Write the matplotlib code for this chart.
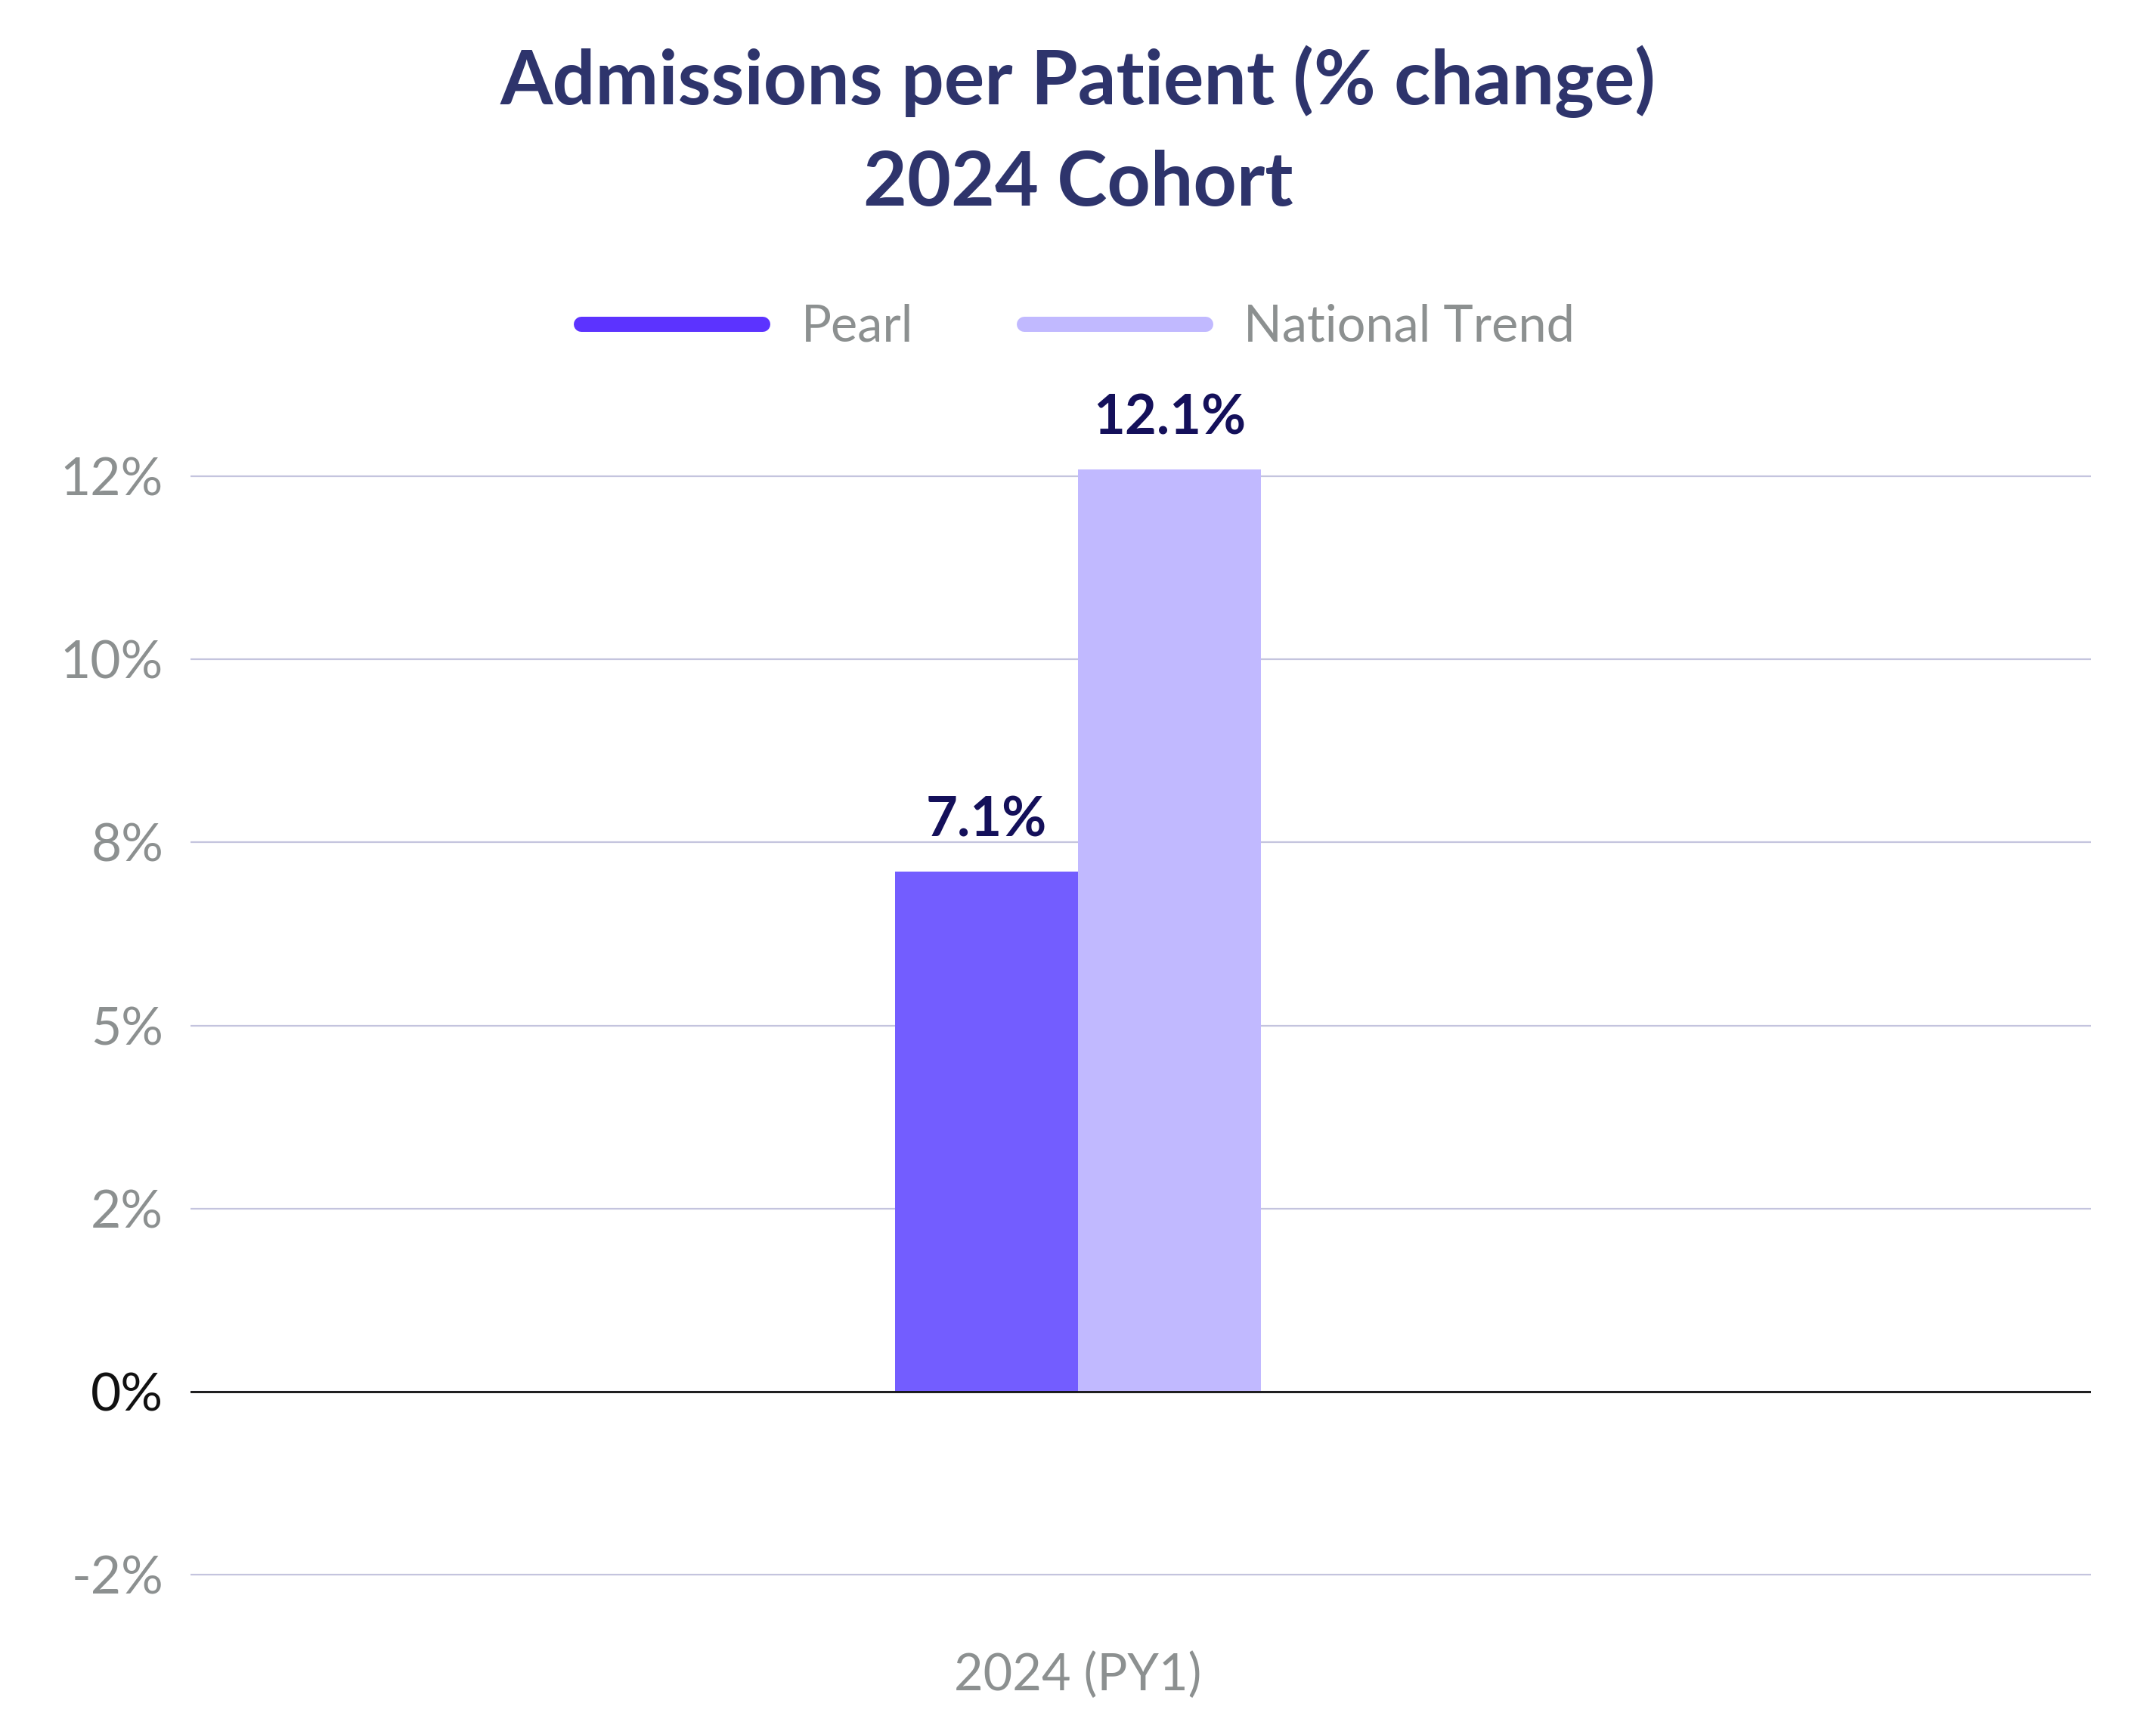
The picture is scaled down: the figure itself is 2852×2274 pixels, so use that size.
import matplotlib
matplotlib.use("Agg")
import matplotlib.pyplot as plt
import matplotlib.ticker as tick
from matplotlib.lines import Line2D
import numpy as np

plt.rcParams['font.family'] = ['Lato', 'DejaVu Sans']

categories = ["2024 (PY1)"]
series_names = ["Pearl", "National Trend"]
pearl_values = [7.1]
national_values = [12.6]
bar_labels = [["7.1%"], ["12.1%"]]
y_ticks = [-2.5, 0, 2.5, 5, 7.5, 10, 12.5]

title_color = "#2E346C"
label_color = "#14105A"
grey = "#8C9090"
bar_colors = ["#735DFF", "#C1B9FF"]
legend_colors = ["#5C33FF", "#C1B9FF"]

fig = plt.figure(figsize=(14.26, 11.37), dpi=200)
ax = fig.add_axes([0.0884, 0.0501, 0.9698 - 0.0884, 0.7696 - 0.0501])

x = np.arange(len(categories))
w = 0.2
b1 = ax.bar(x - w / 2, pearl_values, w, color=bar_colors[0], zorder=2)
b2 = ax.bar(x + w / 2, national_values, w, color=bar_colors[1], zorder=2)

for bars, labels in zip([b1, b2], bar_labels):
    for rect, lab in zip(bars, labels):
        ax.annotate(lab, (rect.get_x() + rect.get_width() / 2, rect.get_height()),
                    xytext=(0, 12), textcoords="offset points", ha="center", va="bottom",
                    fontsize=26, fontweight="bold", color=label_color)

ax.set_xlim(-0.970, 1.107)
ax.set_ylim(-3.3, 13.6)
ax.set_yticks(y_ticks)
ax.yaxis.set_major_formatter(tick.FuncFormatter(lambda v, p: "{:.0f}%".format(v)))
ax.set_xticks(x)
ax.set_xticklabels(categories)
ax.tick_params(axis="y", length=0, pad=13, labelsize=25, labelcolor=grey)
ax.tick_params(axis="x", length=0, pad=9, labelsize=24, labelcolor=grey)
for t, v in zip(ax.get_yticklabels(), y_ticks):
    if v == 0:
        t.set_color("#111111")

ax.grid(axis="y", color="#C4C4DE", linewidth=0.8, zorder=0)
ax.axhline(0, color="#111111", linewidth=1.0, zorder=3)
for s in ax.spines.values():
    s.set_visible(False)

fig.text(0.5, 1 - 138 / 2274, "Admissions per Patient (% change)", ha="center", va="baseline",
         fontsize=36, fontweight="bold", color=title_color)
fig.text(0.5, 1 - 272 / 2274, "2024 Cohort", ha="center", va="baseline",
         fontsize=36, fontweight="bold", color=title_color)

handles = [Line2D([0], [0], color=c, linewidth=7.2, solid_capstyle="round") for c in legend_colors]
fig.legend(handles, series_names, loc="center", bbox_to_anchor=(0.5, 1 - 433 / 2274), ncol=2,
           frameon=False, fontsize=24, labelcolor=grey, handlelength=3.6,
           handletextpad=0.75, columnspacing=2.2)

fig.savefig("out.png", dpi=200)
